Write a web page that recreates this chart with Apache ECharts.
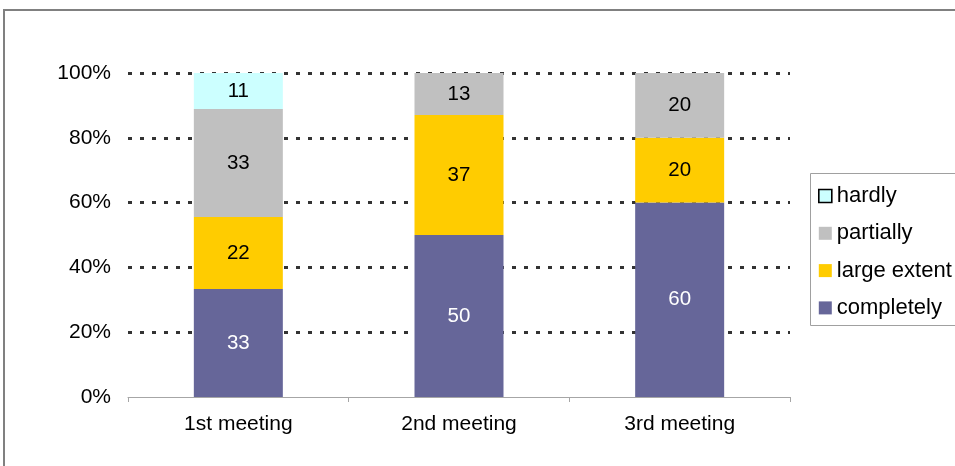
<!DOCTYPE html>
<html>
<head>
<meta charset="utf-8">
<script src="https://cdn.jsdelivr.net/npm/echarts@6/dist/echarts.min.js"></script>
<style>
  html, body { margin: 0; padding: 0; background: #fff; }
  #chart { width: 955px; height: 466px; }
</style>
</head>
<body>
<div id="chart"></div>
<script>
// Meetings and answer shares (raw counts as reported per meeting)
const categories = ['1st meeting', '2nd meeting', '3rd meeting'];
const completely = [33, 50, 60];
const largeExtent = [22, 37, 20];
const partially = [33, 13, 20];
const hardly = [11, null, null];
const yTicks = ['0%', '20%', '40%', '60%', '80%', '100%'];

const seriesDefs = [
  { name: 'completely', values: completely, color: '#666699', label: '#ffffff' },
  { name: 'large extent', values: largeExtent, color: '#FFCC00', label: '#000000' },
  { name: 'partially', values: partially, color: '#C0C0C0', label: '#000000' },
  { name: 'hardly', values: hardly, color: '#CCFFFF', label: '#000000' }
];

// Each column is scaled to 100 % of its own total
const totals = categories.map((_, i) =>
  seriesDefs.reduce((s, d) => s + (d.values[i] || 0), 0));

const FONT = 'Liberation Sans, Arial, sans-serif';

const chart = echarts.init(document.getElementById('chart'), null, { renderer: 'canvas' });

const series = seriesDefs.map(d => ({
  name: d.name,
  type: 'bar',
  stack: 'share',
  barWidth: 89,
  data: d.values.map((v, i) => v == null ? null : { value: v / totals[i] * 100, raw: v }),
  itemStyle: { color: d.color },
  label: {
    show: true,
    position: 'inside',
    color: d.label,
    fontFamily: FONT,
    fontSize: 20.5,
    formatter: p => p.data && p.data.raw != null ? String(p.data.raw) : ''
  },
  emphasis: { disabled: true }
}));

chart.setOption({
  animation: false,
  backgroundColor: '#ffffff',
  grid: { left: 128, top: 73, width: 662, height: 324, containLabel: false },
  xAxis: {
    type: 'category',
    data: categories,
    boundaryGap: true,
    axisLine: { show: true, lineStyle: { color: '#A6A6A6', width: 1 } },
    axisTick: { show: true, length: 5, lineStyle: { color: '#A6A6A6' } },
    axisLabel: { color: '#000', fontFamily: FONT, fontSize: 21, margin: 17 },
    z: 5
  },
  yAxis: {
    type: 'value',
    min: 0,
    max: 100,
    interval: 20,
    axisLine: { show: false },
    axisTick: { show: false },
    axisLabel: {
      color: '#000', fontFamily: FONT, fontSize: 21, margin: 17,
      formatter: v => yTicks[Math.round(v / 20)]
    },
    splitLine: {
      show: true,
      showMinLine: false,
      lineStyle: { color: '#333', width: 3, type: [4, 8] }
    }
  },
  legend: {
    orient: 'vertical',
    left: 813,
    top: 179,
    itemWidth: 13,
    itemHeight: 13,
    itemGap: 13.3,
    icon: 'rect',
    selectedMode: false,
    textStyle: { color: '#000', fontFamily: FONT, fontSize: 22, lineHeight: 24 },
    data: [
      { name: 'hardly', itemStyle: { borderColor: '#000', borderWidth: 1.6 } },
      { name: 'partially' },
      { name: 'large extent' },
      { name: 'completely' }
    ]
  },
  graphic: [
    {
      type: 'rect',
      shape: { x: 4, y: 10, width: 1200, height: 1000 },
      style: { fill: 'none', stroke: '#808080', lineWidth: 2 },
      silent: true
    },
    {
      type: 'rect',
      shape: { x: 810.5, y: 173.5, width: 400, height: 152 },
      style: { fill: 'none', stroke: '#A0A0A0', lineWidth: 1 },
      silent: true
    }
  ],
  series: series
});
</script>
</body>
</html>
